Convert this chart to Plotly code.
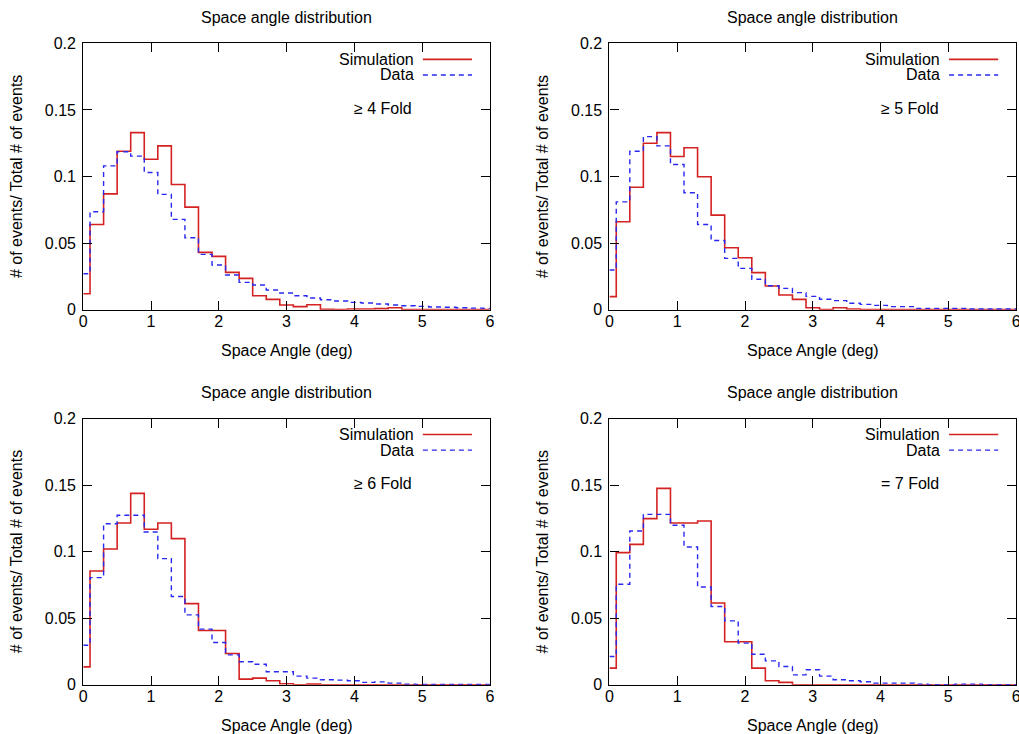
import plotly.graph_objects as go

angle_bins = [0.0, 0.2, 0.4, 0.6, 0.8, 1.0, 1.2, 1.4, 1.6, 1.8, 2.0, 2.2, 2.4, 2.6, 2.8, 3.0,
              3.2, 3.4, 3.6, 3.8, 4.0, 4.2, 4.4, 4.6, 4.8, 5.0, 5.2, 5.4, 5.6, 5.8, 6.0]

sim_4fold = [0.012, 0.064, 0.087, 0.119, 0.133, 0.113, 0.123, 0.094, 0.077, 0.043, 0.040, 0.028,
             0.0235, 0.0105, 0.0077, 0.0035, 0.0023, 0.0037, 0.0003, 0.0, 0.0005, 0.0005, 0.0008,
             0.0015, 0.0, 0.0, 0.0, 0.0, 0.0, 0.0, 0.0]
data_4fold = [0.027, 0.0736, 0.108, 0.1186, 0.1153, 0.103, 0.0866, 0.0678, 0.054, 0.0415, 0.0335,
              0.026, 0.0205, 0.0185, 0.0148, 0.0125, 0.0105, 0.0088, 0.0075, 0.0065, 0.0055, 0.005,
              0.0043, 0.0035, 0.003, 0.0025, 0.002, 0.0018, 0.0015, 0.0012, 0.001]

sim_5fold = [0.0098, 0.066, 0.092, 0.125, 0.133, 0.115, 0.1216, 0.0998, 0.071, 0.0465, 0.039,
             0.0278, 0.0178, 0.011, 0.0077, 0.0015, 0.0, 0.0015, 0.0005, 0.0, 0.0, 0.0, 0.0, 0.0,
             0.0, 0.0, 0.0, 0.0, 0.0, 0.0, 0.0]
data_5fold = [0.0298, 0.081, 0.119, 0.130, 0.123, 0.109, 0.0878, 0.064, 0.052, 0.0385, 0.031,
              0.0228, 0.018, 0.016, 0.0128, 0.0100, 0.0078, 0.0068, 0.0048, 0.004, 0.0032, 0.0023,
              0.0023, 0.001, 0.001, 0.001, 0.001, 0.0005, 0.0005, 0.0005, 0.0005]

sim_6fold = [0.0135, 0.0855, 0.102, 0.1215, 0.1438, 0.1168, 0.1215, 0.1098, 0.061, 0.0408, 0.0408,
             0.0235, 0.0043, 0.005, 0.003, 0.0008, 0.0, 0.0005, 0.0, 0.0, 0.0, 0.0, 0.0, 0.0, 0.0,
             0.0, 0.0, 0.0, 0.0, 0.0, 0.0]
data_6fold = [0.0297, 0.0805, 0.121, 0.1273, 0.1273, 0.1148, 0.0948, 0.0663, 0.0525, 0.0418, 0.0318,
              0.0225, 0.0173, 0.0155, 0.0098, 0.0098, 0.0065, 0.005, 0.0038, 0.0035, 0.003, 0.0018,
              0.0022, 0.0013, 0.0005, 0.0003, 0.0003, 0.0003, 0.0003, 0.0003, 0.0003]

sim_7fold = [0.0125, 0.0993, 0.1055, 0.1248, 0.1475, 0.1215, 0.1215, 0.123, 0.0615, 0.0323, 0.0323,
             0.0125, 0.003, 0.0018, 0.0, 0.0, 0.0, 0.0, 0.0, 0.0, 0.0, 0.0, 0.0, 0.0, 0.0, 0.0,
             0.0, 0.0, 0.0, 0.0, 0.0]
data_7fold = [0.0213, 0.0755, 0.1155, 0.128, 0.128, 0.1198, 0.1035, 0.0735, 0.0588, 0.048, 0.0313,
              0.023, 0.018, 0.0138, 0.0075, 0.0113, 0.0065, 0.0038, 0.003, 0.0023, 0.0013, 0.0013,
              0.0013, 0.0005, 0.0, 0.0, 0.0005, 0.0005, 0.0, 0.0, 0.0]

fold_labels = ["\u2265 4 Fold", "\u2265 5 Fold", "\u2265 6 Fold", "= 7 Fold"]
x_ticks = [0, 1, 2, 3, 4, 5, 6]
y_ticks = [0, 0.05, 0.1, 0.15, 0.2]
title_text = "Space angle distribution"
x_title = "Space Angle (deg)"
y_title = "# of events/ Total # of events"

panels = [(sim_4fold, data_4fold), (sim_5fold, data_5fold),
          (sim_6fold, data_6fold), (sim_7fold, data_7fold)]

W, H = 1026, 745
RED = "#d42222"
BLUE = "#2828f0"
FONT = "Liberation Sans, Arial, sans-serif"
FS = 16

# map target picture pixels to figure pixels (the capture shrinks/offsets the page slightly)
AX, CX = 0.988, 5.5
AY, CY = 0.975, 8.0


def fx(s):
    return min(max((s - CX) / AX / W, 0.0), 1.0)


def fy(s):
    return min(max(1 - (s - CY) / AY / H, 0.0), 1.0)


# panel boxes in picture pixels (left, right, top, bottom)
boxes = [(84.5, 489.8, 43.3, 309.0), (609.0, 1014.3, 43.3, 309.0),
         (84.5, 489.8, 417.6, 683.3), (609.0, 1014.3, 417.6, 683.3)]

fig = go.Figure()
annotations = []
shapes = []
layout_axes = {}

for i, ((sim, dat), (l, r, t, b)) in enumerate(zip(panels, boxes)):
    n = i + 1
    xa = "x" if n == 1 else f"x{n}"
    ya = "y" if n == 1 else f"y{n}"
    fig.add_trace(go.Scatter(x=angle_bins, y=sim, mode="lines", line_shape="hvh",
                             line=dict(color=RED, width=1.6), xaxis=xa, yaxis=ya,
                             showlegend=False, name="Simulation"))
    fig.add_trace(go.Scatter(x=angle_bins, y=dat, mode="lines", line_shape="hvh",
                             line=dict(color=BLUE, width=1.4, dash="5px,4px"), xaxis=xa, yaxis=ya,
                             showlegend=False, name="Data"))
    axis_common = dict(showline=True, linecolor="black", linewidth=1.2, mirror="ticks",
                       ticks="inside", ticklen=9, tickwidth=1, tickcolor="black",
                       showgrid=False, zeroline=False,
                       tickfont=dict(family=FONT, size=FS, color="black"))
    layout_axes["xaxis" if n == 1 else f"xaxis{n}"] = dict(
        axis_common, domain=[fx(l), fx(r)], range=[0, 6], tickvals=x_ticks,
        anchor=ya, ticklabelstandoff=-3)
    layout_axes["yaxis" if n == 1 else f"yaxis{n}"] = dict(
        axis_common, domain=[fy(b), fy(t)], range=[0, 0.2], tickvals=y_ticks,
        ticktext=[str(v) for v in y_ticks], anchor=xa, ticklabelstandoff=3)

    cx = fx((l + r) / 2)
    annotations.append(dict(text=title_text, x=cx, y=fy(t - 26), xref="paper", yref="paper",
                            showarrow=False, xanchor="center", yanchor="middle",
                            font=dict(family=FONT, size=FS, color="black")))
    annotations.append(dict(text=x_title, x=cx, y=fy(b + 40.5), xref="paper", yref="paper",
                            showarrow=False, xanchor="center", yanchor="middle",
                            font=dict(family=FONT, size=FS, color="black")))
    annotations.append(dict(text=y_title, x=fx(l - 66.5), y=fy((t + b) / 2), xref="paper",
                            yref="paper", showarrow=False, textangle=-90, xanchor="center",
                            yanchor="middle", font=dict(family=FONT, size=FS, color="black")))
    # legend: text right-aligned, line sample to its right (gnuplot style)
    for k, (lab, col, dash) in enumerate([("Simulation", RED, "solid"), ("Data", BLUE, "5px,4px")]):
        yy = fy(t + 16 + 15.5 * k)
        annotations.append(dict(text=lab, x=fx(l + 331.5), y=yy, xref="paper", yref="paper",
                                showarrow=False, xanchor="right", yanchor="middle",
                                font=dict(family=FONT, size=FS, color="black")))
        shapes.append(dict(type="line", xref="paper", yref="paper", x0=fx(l + 338.5),
                           x1=fx(l + 387.5), y0=yy, y1=yy,
                           line=dict(color=col, width=1.6 if k == 0 else 1.4, dash=dash)))
    annotations.append(dict(text=fold_labels[i], x=fx(l + 330), y=fy(t + 65),
                            xref="paper", yref="paper", showarrow=False, xanchor="right",
                            yanchor="middle", font=dict(family=FONT, size=FS, color="black")))

fig.update_layout(width=W, height=H, margin=dict(l=0, r=0, t=0, b=0, pad=0),
                  paper_bgcolor="white", plot_bgcolor="white",
                  annotations=annotations, shapes=shapes, showlegend=False,
                  **layout_axes)

fig.write_html("out.html")
